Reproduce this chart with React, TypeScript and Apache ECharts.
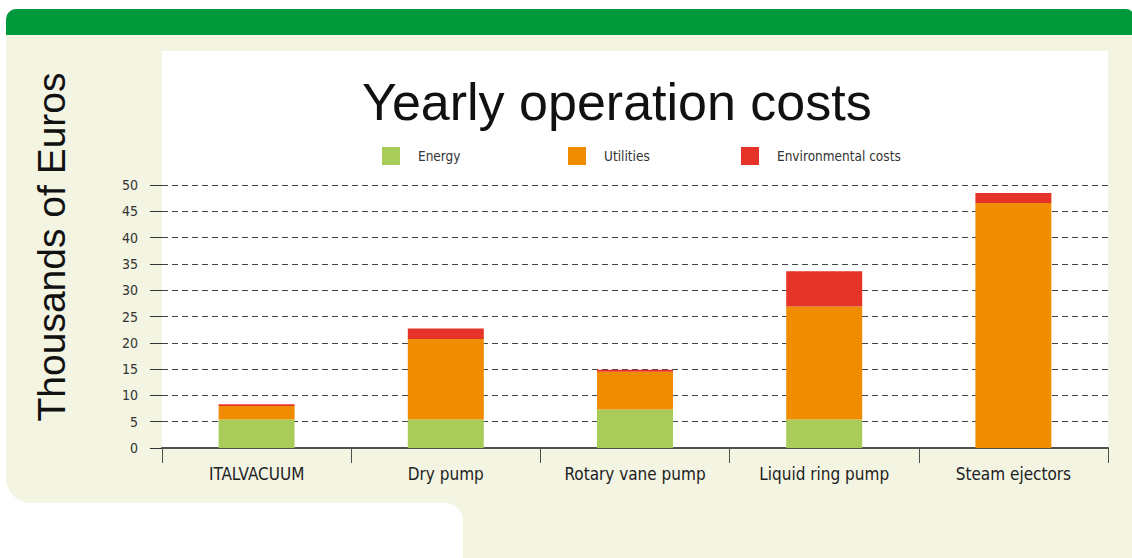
import React, { useEffect, useRef } from "react";
import * as echarts from "echarts";

const categories = ["ITALVACUUM", "Dry pump", "Rotary vane pump", "Liquid ring pump", "Steam ejectors"];
const energy = [5.4, 5.4, 7.3, 5.4, 0];
const utilities = [2.6, 15.3, 7.2, 21.5, 46.6];
const environmental = [0.3, 2.0, 0.4, 6.7, 1.9];
const seriesNames = ["Energy", "Utilities", "Environmental costs"];
const colors = ["#a9cb5a", "#f08c00", "#e63329"];
const yTicks = { min: 0, max: 50, interval: 5 };

const NARROW = "'DejaVu Sans Condensed', 'Liberation Sans Narrow', sans-serif";
const SANS = "'Liberation Sans', Arial, sans-serif";
const BEIGE = "#f3f4e2";

export default function App() {
  const ref = useRef<HTMLDivElement>(null);
  useEffect(() => {
    if (!ref.current) return;
    const chart = echarts.init(ref.current, null, { renderer: "svg" });
    const data = [energy, utilities, environmental];
    const legendLefts = [382, 568, 741];
    chart.setOption({
      animation: false,
      backgroundColor: "#ffffff",
      title: {
        text: "Yearly operation costs",
        left: 357,
        top: 71,
        textStyle: { fontFamily: SANS, fontSize: 52, fontWeight: "normal", color: "#111" },
      },
      legend: seriesNames.map((n, i) => ({
        data: [n],
        left: legendLefts[i],
        top: 147,
        icon: "rect",
        itemWidth: 18,
        itemHeight: 18,
        padding: 0,
        textStyle: { fontFamily: NARROW, fontSize: 13.5, color: "#333", padding: [0, 0, 0, 13] },
      })),
      graphic: [
        { type: "rect", z: -10, silent: true, shape: { x: 6, y: 28, width: 1140, height: 475, r: [0, 0, 0, 25] }, style: { fill: BEIGE } },
        { type: "rect", z: -10, silent: true, shape: { x: 440, y: 480, width: 700, height: 90 }, style: { fill: BEIGE } },
        { type: "rect", z: -9, silent: true, shape: { x: 0, y: 503, width: 463, height: 60, r: [0, 18, 0, 0] }, style: { fill: "#ffffff" } },
        { type: "rect", z: -8, silent: true, shape: { x: 6, y: 9, width: 1128, height: 26, r: [10, 8, 0, 0] }, style: { fill: "#009a3d" } },
        { type: "rect", z: -8, silent: true, shape: { x: 162, y: 51, width: 946, height: 397 }, style: { fill: "#ffffff" } },
        {
          type: "text",
          x: 51,
          y: 247,
          rotation: Math.PI / 2,
          style: {
            text: "Thousands of Euros",
            fontFamily: SANS,
            fontSize: 39,
            fill: "#111",
            align: "center",
            verticalAlign: "middle",
          },
        },
      ],
      grid: { left: 162, right: 24, top: 185, bottom: 110, containLabel: false },
      xAxis: {
        type: "category",
        data: categories,
        axisLine: { show: true, lineStyle: { color: "#4d524d", width: 2 } },
        axisTick: { show: true, length: 15, lineStyle: { color: "#4d524d", width: 1 } },
        axisLabel: { interval: 0, fontFamily: NARROW, fontSize: 17, color: "#222", margin: 17 },
        splitLine: { show: false },
      },
      yAxis: {
        type: "value",
        min: yTicks.min,
        max: yTicks.max,
        interval: yTicks.interval,
        axisLine: { show: false },
        axisTick: { show: true, length: 12, lineStyle: { color: "#333", width: 1 } },
        axisLabel: { fontFamily: NARROW, fontSize: 14, color: "#333", margin: 24 },
        splitLine: { show: true, lineStyle: { color: "#444", width: 1, type: [6, 4] } },
      },
      series: seriesNames.map((n, i) => ({
        name: n,
        type: "bar",
        stack: "total",
        barWidth: 76,
        data: data[i],
        itemStyle: { color: colors[i] },
      })),
    });
    return () => chart.dispose();
  }, []);
  return <div ref={ref} style={{ position: "fixed", left: 0, top: 0, width: 1132, height: 558 }} />;
}
